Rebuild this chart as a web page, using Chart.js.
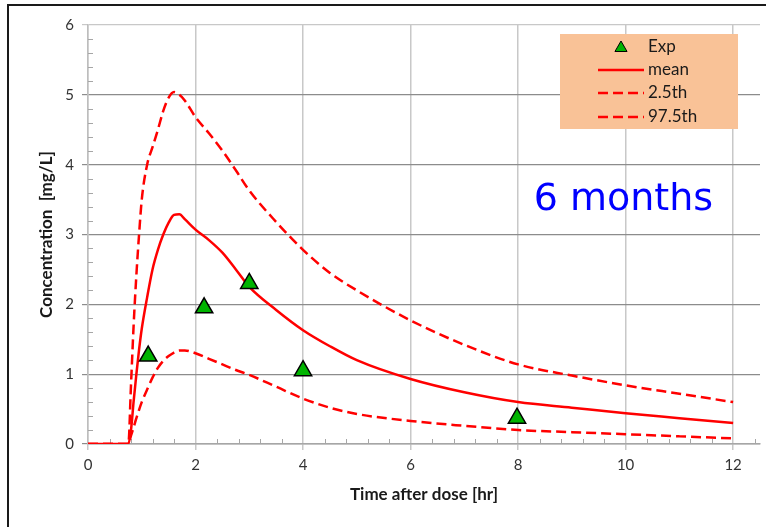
<!DOCTYPE html>
<html>
<head>
<meta charset="utf-8">
<script src="https://cdn.jsdelivr.net/npm/chart.js@4"></script>
<style>
    body { margin: 0; background: #fff; }
    canvas { display: block; }
</style>
</head>
<body>
<canvas id="pk-chart" width="766" height="527"></canvas>
<script>
// Time grid shared by the model curves [hr]
const timeGrid = [0, 0.5, 0.75, 0.8, 0.85, 0.9, 0.95, 1.0, 1.1, 1.2, 1.3, 1.4, 1.5, 1.6, 1.7, 1.8, 2.0,
    2.25, 2.5, 2.75, 3.0, 3.5, 4.0, 4.5, 5.0, 6.0, 7.0, 8.0, 9.0, 10.0, 11.0, 12.0];

// Model predictions [mg/L]
const meanConc = [0, 0, 0, 0.2, 0.62, 1.0, 1.35, 1.65, 2.1, 2.5, 2.78, 3.0, 3.17, 3.28, 3.29, 3.22, 3.07,
    2.92, 2.74, 2.5, 2.25, 1.92, 1.63, 1.4, 1.2, 0.93, 0.74, 0.6, 0.52, 0.44, 0.37, 0.3];
const p025Conc = [0, 0, 0, 0.12, 0.24, 0.37, 0.49, 0.6, 0.78, 0.95, 1.09, 1.19, 1.26, 1.31, 1.34, 1.34, 1.3,
    1.22, 1.14, 1.06, 0.99, 0.82, 0.65, 0.52, 0.43, 0.33, 0.26, 0.2, 0.17, 0.14, 0.11, 0.08];
const p975Conc = [0, 0, 0, 0.85, 1.72, 2.42, 3.0, 3.5, 4.0, 4.25, 4.5, 4.77, 4.96, 5.04, 5.0, 4.92, 4.68,
    4.45, 4.2, 3.92, 3.63, 3.18, 2.78, 2.45, 2.2, 1.77, 1.42, 1.14, 0.98, 0.84, 0.72, 0.6];

// Observed concentrations
const expTime = [1.12, 2.16, 3.0, 4.0, 7.98];
const expConc = [1.26, 1.95, 2.3, 1.05, 0.37];

// Axis ticks
const xTicks = [0, 2, 4, 6, 8, 10, 12];
const yTicks = [0, 1, 2, 3, 4, 5, 6];

const annotationText = "6 months";

const toPoints = (xs, ys) => xs.map((x, i) => ({ x: x, y: ys[i] }));

const RED = '#ff0000';
const FONT = 'Lato, "Open Sans", sans-serif';

// Frame, minor ticks, legend box and label
const decorPlugin = {
    id: 'decor',
    beforeDraw(chart) {
        const ctx = chart.ctx;
        ctx.save();
        ctx.fillStyle = '#fff';
        ctx.fillRect(0, 0, chart.width, chart.height);
        ctx.restore();
    },
    beforeDatasetsDraw(chart) {
        const ctx = chart.ctx;
        const xs = chart.scales.x;
        const ys = chart.scales.y;
        ctx.save();
        ctx.strokeStyle = '#a6a6a6';
        ctx.lineWidth = 1;
        ctx.beginPath();
        // minor y ticks (inside)
        for (let v = 0.2; v < 6; v += 0.2) {
            if (Math.abs(v - Math.round(v)) < 0.01) continue;
            const py = Math.round(ys.getPixelForValue(v)) + 0.5;
            ctx.moveTo(xs.left, py);
            ctx.lineTo(xs.left + 5, py);
        }
        // minor x ticks (inside)
        for (let v = 0.4; v < 12.45; v += 0.4) {
            if (Math.abs(v / 2 - Math.round(v / 2)) < 0.01) continue;
            const px = Math.round(xs.getPixelForValue(v)) + 0.5;
            ctx.moveTo(px, ys.bottom);
            ctx.lineTo(px, ys.bottom - 5);
        }
        ctx.stroke();
        ctx.restore();
    },
    afterDraw(chart) {
        const ctx = chart.ctx;
        const xs = chart.scales.x;
        const ys = chart.scales.y;
        ctx.save();

        // outer frame (top and left)
        ctx.strokeStyle = '#1a1a1a';
        ctx.lineWidth = 2;
        ctx.beginPath();
        ctx.moveTo(8, chart.height);
        ctx.lineTo(8, 5);
        ctx.lineTo(chart.width, 5);
        ctx.stroke();

        // "6 months" label
        ctx.fillStyle = '#0000ff';
        ctx.font = '38px "Comic Sans MS", "DejaVu Sans", sans-serif';
        ctx.textAlign = 'center';
        ctx.textBaseline = 'middle';
        ctx.fillText(annotationText, xs.getPixelForValue(9.96), ys.getPixelForValue(3.49));

        // legend
        ctx.fillStyle = '#f9c297';
        ctx.fillRect(560, 34, 178, 95);
        const rows = [47, 70, 93, 117];
        ctx.font = '17px ' + FONT;
        ctx.textAlign = 'left';
        chart.data.datasets.forEach((ds, i) => {
            const y = rows[i];
            if (ds.pointStyle === 'triangle') {
                const r = 7;
                ctx.fillStyle = ds.backgroundColor;
                ctx.strokeStyle = ds.borderColor;
                ctx.lineWidth = 1;
                ctx.beginPath();
                ctx.moveTo(621, y + 1 - r);
                ctx.lineTo(621 + r * 0.866, y + 1 + r / 2);
                ctx.lineTo(621 - r * 0.866, y + 1 + r / 2);
                ctx.closePath();
                ctx.fill();
                ctx.stroke();
            } else {
                ctx.strokeStyle = ds.borderColor;
                ctx.lineWidth = 2.5;
                ctx.setLineDash(ds.borderDash || []);
                ctx.beginPath();
                ctx.moveTo(598, y);
                ctx.lineTo(644, y);
                ctx.stroke();
                ctx.setLineDash([]);
            }
            ctx.fillStyle = '#1a1a1a';
            ctx.fillText(ds.label, 648, y);
        });
        ctx.restore();
    }
};

const ctx = document.getElementById('pk-chart').getContext('2d');

new Chart(ctx, {
    type: 'line',
    data: {
        datasets: [
            {
                label: 'Exp',
                type: 'scatter',
                data: toPoints(expTime, expConc),
                pointStyle: 'triangle',
                pointRadius: 10,
                pointBackgroundColor: '#00b400',
                backgroundColor: '#00b400',
                borderColor: '#000',
                pointBorderColor: '#000',
                pointBorderWidth: 1.5,
                showLine: false
            },
            {
                label: 'mean',
                data: toPoints(timeGrid, meanConc),
                borderColor: RED,
                borderWidth: 2.5,
                pointRadius: 0,
                cubicInterpolationMode: 'monotone'
            },
            {
                label: '2.5th',
                data: toPoints(timeGrid, p025Conc),
                borderColor: RED,
                borderWidth: 2.5,
                borderDash: [10, 5],
                pointRadius: 0,
                cubicInterpolationMode: 'monotone'
            },
            {
                label: '97.5th',
                data: toPoints(timeGrid, p975Conc),
                borderColor: RED,
                borderWidth: 2.5,
                borderDash: [10, 5],
                pointRadius: 0,
                cubicInterpolationMode: 'monotone'
            }
        ]
    },
    options: {
        responsive: false,
        animation: false,
        events: [],
        layout: { autoPadding: false, padding: { left: 0, right: 6, top: 25, bottom: 0 } },
        plugins: {
            legend: { display: false },
            tooltip: { enabled: false }
        },
        scales: {
            x: {
                type: 'linear',
                min: 0,
                max: 12.5,
                afterBuildTicks: scale => {
                    scale.ticks = xTicks.map(v => ({ value: v }));
                },
                afterFit: scale => {
                    scale.height = 83;
                    scale.paddingLeft = 0;
                    scale.paddingRight = 0;
                },
                ticks: {
                    font: { family: FONT, size: 15 },
                    color: '#333',
                    padding: 6,
                    maxRotation: 0
                },
                grid: { color: '#c8c8c8', tickLength: 6, lineWidth: 1.5 },
                border: { color: '#a6a6a6', width: 1.5 },
                title: {
                    display: true,
                    text: 'Time after dose [hr]',
                    font: { family: FONT, size: 17, weight: 'bold' },
                    color: '#1a1a1a',
                    padding: { top: 0, bottom: 22 }
                }
            },
            y: {
                min: 0,
                max: 6,
                afterBuildTicks: scale => {
                    scale.ticks = yTicks.map(v => ({ value: v }));
                },
                afterFit: scale => { scale.width = 88; },
                ticks: {
                    font: { family: FONT, size: 15 },
                    color: '#333',
                    padding: 8
                },
                grid: {
                    color: c => (c.tick && c.tick.value === 6) ? '#c8c8c8' : '#8c8c8c',
                    tickLength: 6,
                    lineWidth: 1.2
                },
                border: { color: '#bdbdbd', width: 1.5 },
                title: {
                    display: true,
                    text: 'Concentration  [mg/L]',
                    font: { family: FONT, size: 17, weight: 'bold' },
                    color: '#1a1a1a',
                    padding: { top: 36, bottom: 0 }
                }
            }
        }
    },
    plugins: [decorPlugin]
});
</script>
</body>
</html>
